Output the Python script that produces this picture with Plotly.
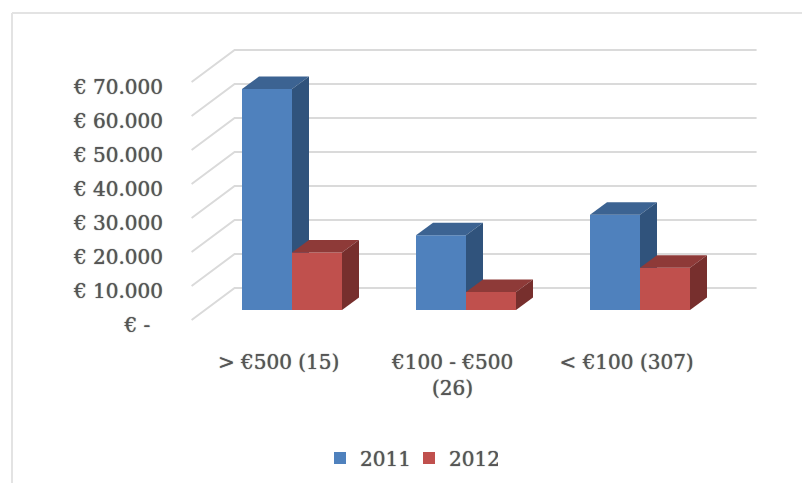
import plotly.graph_objects as go

categories = ["> €500 (15)", "€100 - €500<br>(26)", "< €100 (307)"]
years = ["2011", "2012"]
values_2011 = [65000, 22000, 28000]
values_2012 = [16900, 5300, 12400]
tick_values = [0, 10000, 20000, 30000, 40000, 50000, 60000, 70000]
tick_labels = ["€ -\u00a0\u00a0", "€ 10.000", "€ 20.000", "€ 30.000", "€ 40.000", "€ 50.000", "€ 60.000", "€ 70.000"]

# Layout / projection (pixels)
W, H = 802, 483
L, R, T, B = 170, 775, 20, 335
PX_CAT = 174.0      # px per category
PX_VAL = 34.0 / 10000  # px per euro
X0, Y0 = 292, 310   # pixel of group centre / floor in the bar plane
BAR_W = 50 / PX_CAT
BAR_DX, BAR_DY = 17 / PX_CAT, 12.5 / PX_VAL  # bar depth
FRONT_DX, FRONT_DY = -13.4 / PX_CAT, -10 / PX_VAL  # bar plane -> front of the floor
BACK_DX, BACK_DY = 29.6 / PX_CAT, 22 / PX_VAL      # bar plane -> back wall
xrange_ = [(L - X0) / PX_CAT, (R - X0) / PX_CAT]
yrange_ = [(Y0 - B) / PX_VAL, (Y0 - T) / PX_VAL]

GRID = "#DADADA"
BORDER = "#E3E3E3"
TEXT = "#555555"
FONT = "DejaVu Serif"
SHADOW = "0 0 1px #555555"
label_font = dict(family=FONT, size=20, color=TEXT, shadow=SHADOW)

fig = go.Figure()

# Wall gridlines on the base axes
wall_x0 = -0.5 + FRONT_DX
wall_x1 = wall_x0 + len(categories)
for v in tick_values:
    fig.add_trace(go.Scatter(
        x=[wall_x0, wall_x0 + BACK_DX - FRONT_DX, wall_x1 + BACK_DX - FRONT_DX],
        y=[v + FRONT_DY, v + BACK_DY, v + BACK_DY],
        mode="lines", line=dict(color=GRID, width=2), showlegend=False, hoverinfo="skip"))

def add_series(name, values, offset, colour, top, side, axis):
    xs = [i + offset * BAR_W for i in range(len(values))]
    fig.add_trace(go.Bar(x=xs, y=values, width=BAR_W, name=name, marker=dict(color=colour, line=dict(width=0)),
                         xaxis="x" + axis, yaxis="y" + axis))
    for x, v in zip(xs, values):
        a, b = x - BAR_W / 2, x + BAR_W / 2
        fig.add_trace(go.Scatter(x=[a, b, b + BAR_DX, a + BAR_DX, a], y=[v, v, v + BAR_DY, v + BAR_DY, v],
                                 fill="toself", fillcolor=top, mode="none", showlegend=False, hoverinfo="skip",
                                 xaxis="x" + axis, yaxis="y" + axis))
        fig.add_trace(go.Scatter(x=[b, b + BAR_DX, b + BAR_DX, b, b], y=[0, BAR_DY, v + BAR_DY, v, 0],
                                 fill="toself", fillcolor=side, mode="none", showlegend=False, hoverinfo="skip",
                                 xaxis="x" + axis, yaxis="y" + axis))

add_series(years[0], values_2011, -0.5, "#4F81BD", "#3C6392", "#30537C", "2")
add_series(years[1], values_2012, 0.5, "#C0504D", "#8E3A38", "#772F2D", "3")

hidden = dict(visible=False, fixedrange=True)
px_x = lambda p: (p - L) / (R - L)
px_y = lambda p: (B - p) / (B - T)
fig.update_layout(
    width=W, height=H, margin=dict(l=L, r=W - R, t=T, b=H - B),
    paper_bgcolor="white", plot_bgcolor="rgba(0,0,0,0)",
    font=label_font,
    barmode="overlay",
    xaxis=dict(range=xrange_, tickvals=[i + FRONT_DX for i in range(len(categories))], ticktext=categories,
               showgrid=False, zeroline=False, showline=False, ticks="", tickfont=label_font, ticklabelstandoff=13),
    yaxis=dict(range=yrange_, tickvals=[v + FRONT_DY - 5 / PX_VAL for v in tick_values], ticktext=tick_labels,
               showgrid=False, zeroline=False, showline=False, ticks="", tickfont=label_font, ticklabelstandoff=6),
    xaxis2=dict(range=xrange_, overlaying="x", **hidden),
    yaxis2=dict(range=yrange_, overlaying="y", **hidden),
    xaxis3=dict(range=xrange_, overlaying="x", **hidden),
    yaxis3=dict(range=yrange_, overlaying="y", **hidden),
    legend=dict(orientation="h", x=px_x(320), xanchor="left", yref="container", y=(H - 458) / H, yanchor="middle",
                traceorder="normal", font=label_font, bgcolor="rgba(0,0,0,0)", entrywidth=44, entrywidthmode="pixels"),
    shapes=[
        dict(type="line", xref="paper", yref="paper", x0=px_x(12), x1=px_x(802), y0=px_y(13), y1=px_y(13),
             line=dict(color=BORDER, width=2), layer="below"),
        dict(type="line", xref="paper", yref="paper", x0=px_x(12), x1=px_x(12), y0=px_y(13), y1=px_y(483),
             line=dict(color=BORDER, width=2), layer="below"),
    ],
)
fig.write_html("out.html", config={"displayModeBar": False}, post_script="document.body.style.margin='0';")
